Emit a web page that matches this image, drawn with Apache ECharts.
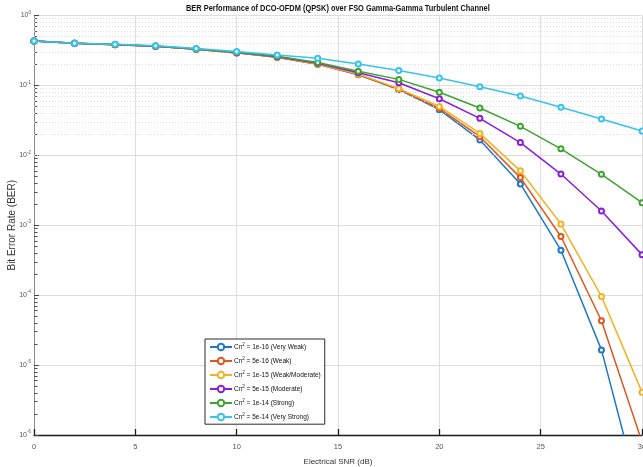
<!DOCTYPE html>
<html>
<head>
<meta charset="utf-8">
<script src="https://cdn.jsdelivr.net/npm/echarts@6/dist/echarts.min.js"></script>
<style>
  html, body { margin: 0; padding: 0; background: #fff; }
  #chart { width: 643px; height: 467px; }
</style>
</head>
<body>
<div id="chart"></div>
<script>
// Electrical SNR sweep (dB)
var snr = [0, 2, 4, 6, 8, 10, 12, 14, 16, 18, 20, 22, 24, 26, 28, 30];

// BER for each turbulence strength (Cn^2)
var berVeryWeak = [0.432, 0.400, 0.383, 0.363, 0.330, 0.292, 0.253, 0.200, 0.142, 0.087, 0.045, 0.0166, 0.0039, 0.00044, 1.65e-5, 1.0e-7];
var berWeak = [0.432, 0.400, 0.383, 0.363, 0.330, 0.292, 0.253, 0.201, 0.143, 0.088, 0.047, 0.0185, 0.0048, 0.00069, 4.3e-5, 8.0e-7];
var berWeakModerate = [0.432, 0.400, 0.383, 0.363, 0.330, 0.293, 0.254, 0.203, 0.145, 0.090, 0.050, 0.0206, 0.0060, 0.00104, 9.6e-5, 4.1e-6];
var berModerate = [0.432, 0.400, 0.384, 0.364, 0.332, 0.295, 0.258, 0.208, 0.152, 0.109, 0.0645, 0.0338, 0.0152, 0.0054, 0.0016, 0.00038];
var berStrong = [0.432, 0.400, 0.384, 0.365, 0.333, 0.297, 0.262, 0.213, 0.160, 0.122, 0.080, 0.0475, 0.026, 0.0124, 0.00535, 0.0021];
var berVeryStrong = [0.433, 0.402, 0.387, 0.368, 0.338, 0.305, 0.272, 0.244, 0.202, 0.163, 0.128, 0.096, 0.0705, 0.0486, 0.033, 0.0223];

var seriesNames = [
  'Cn{sup|2} = 1e-16 (Very Weak)',
  'Cn{sup|2} = 5e-16 (Weak)',
  'Cn{sup|2} = 1e-15 (Weak/Moderate)',
  'Cn{sup|2} = 5e-15 (Moderate)',
  'Cn{sup|2} = 1e-14 (Strong)',
  'Cn{sup|2} = 5e-14 (Very Strong)'
];
var seriesData = [berVeryWeak, berWeak, berWeakModerate, berModerate, berStrong, berVeryStrong];
var seriesColors = ['#1f77c9', '#e0561c', '#f0b323', '#8a1fd8', '#3ea42f', '#36c3ef'];

var chartTitle = 'BER Performance of DCO-OFDM (QPSK) over FSO Gamma-Gamma Turbulent Channel';

// axis ticks
var xTicks = [0, 5, 10, 15, 20, 25, 30];
var yDecades = [1e-6, 1e-5, 1e-4, 1e-3, 1e-2, 1e-1, 1];

// minor log grid values (2..9 within each decade)
var yMinor = [];
for (var d = 0; d < yDecades.length - 1; d++) {
  for (var m = 2; m <= 9; m++) yMinor.push(yDecades[d] * m);
}

var sans = "'Liberation Sans', Arial, sans-serif";

var chart = echarts.init(document.getElementById('chart'), null, { renderer: 'canvas' });

var lineSeries = seriesNames.map(function (name, i) {
  return {
    name: name,
    type: 'line',
    data: snr.map(function (x, k) { return [x, seriesData[i][k]]; }),
    symbol: 'emptyCircle',
    symbolSize: 5,
    showAllSymbol: true,
    clip: true,
    z: 3 + i,
    itemStyle: { color: seriesColors[i], borderColor: seriesColors[i], borderWidth: 1.2 },
    lineStyle: { color: seriesColors[i], width: 1.5 },
    emphasis: { disabled: true },
    animation: false
  };
});

// dotted minor gridlines and short minor ticks on the BER axis
lineSeries.unshift({
  type: 'line',
  data: [],
  silent: true,
  z: 1,
  markLine: {
    silent: true,
    symbol: 'none',
    animation: false,
    label: { show: false },
    lineStyle: { color: '#dcdcdc', width: 1, type: [1, 2] },
    data: yMinor.map(function (v) { return { yAxis: v }; })
  }
});
lineSeries.unshift({
  type: 'line',
  data: [],
  silent: true,
  z: 2,
  markLine: {
    silent: true,
    symbol: 'none',
    animation: false,
    label: { show: false },
    lineStyle: { color: '#555', width: 1, type: 'solid' },
    data: yMinor.map(function (v) { return [{ coord: [0, v] }, { coord: [0.18, v] }]; })
  }
});

var option = {
  backgroundColor: '#ffffff',
  animation: false,
  graphic: [{
    type: 'text',
    x: 186,
    y: 3,
    scaleX: 0.78,
    silent: true,
    style: {
      text: chartTitle,
      fontFamily: sans,
      fontSize: 9.5,
      fontWeight: 'bold',
      fill: '#111'
    }
  }],
  grid: { left: 34, right: 1, top: 15.5, bottom: 32, containLabel: false, outerBoundsMode: 'none' },
  legend: {
    orient: 'vertical',
    left: 205,
    top: 339,
    padding: [3, 4, 3, 4],
    itemGap: 4.8,
    itemWidth: 22,
    itemHeight: 8,
    backgroundColor: '#ffffff',
    borderColor: '#2b2b2b',
    borderWidth: 1,
    data: seriesNames,
    selectedMode: false,
    textStyle: {
      fontFamily: sans,
      fontSize: 6.5,
      color: '#111',
      padding: [0, 0, 0, -3],
      rich: {
        sup: { fontFamily: sans, fontSize: 4.5, color: '#111', padding: [0, 0, 5, 0] }
      }
    }
  },
  xAxis: {
    type: 'value',
    min: 0,
    max: 30,
    interval: 5,
    name: 'Electrical SNR (dB)',
    nameLocation: 'middle',
    nameGap: 23,
    nameMoveOverlap: false,
    nameTextStyle: { fontFamily: sans, fontSize: 8, color: '#333' },
    axisLine: { show: true, onZero: false, lineStyle: { color: '#1a1a1a', width: 1.3 } },
    axisTick: { show: true, inside: true, length: 6, lineStyle: { color: '#1a1a1a', width: 1.3 } },
    axisLabel: {
      margin: 8,
      fontFamily: sans,
      fontSize: 7.5,
      color: '#555',
      formatter: function (v) { return xTicks.indexOf(v) >= 0 ? String(v) : ''; }
    },
    splitLine: { show: true, lineStyle: { color: '#dddddd', width: 1 } }
  },
  yAxis: {
    type: 'log',
    logBase: 10,
    min: 1e-6,
    max: 1,
    splitNumber: 6,
    name: 'Bit Error Rate (BER)',
    nameLocation: 'middle',
    nameRotate: 90,
    nameGap: 17,
    nameMoveOverlap: false,
    nameTextStyle: { fontFamily: sans, fontSize: 10, color: '#333' },
    axisLine: { show: true, lineStyle: { color: '#8a8a8a', width: 1 } },
    axisTick: { show: true, inside: true, length: 5, lineStyle: { color: '#444', width: 1 } },
    axisLabel: {
      margin: 3,
      fontFamily: sans,
      fontSize: 7,
      color: '#555',
      formatter: function (v) {
        var e = Math.round(Math.log10(v));
        return '10{sup|' + e + '}';
      },
      rich: {
        sup: { fontFamily: sans, fontSize: 4.5, color: '#555', padding: [0, 0, 6, 0] }
      }
    },
    splitLine: { show: true, lineStyle: { color: '#dddddd', width: 1.2 } }
  },
  series: lineSeries
};

chart.setOption(option);
</script>
</body>
</html>
